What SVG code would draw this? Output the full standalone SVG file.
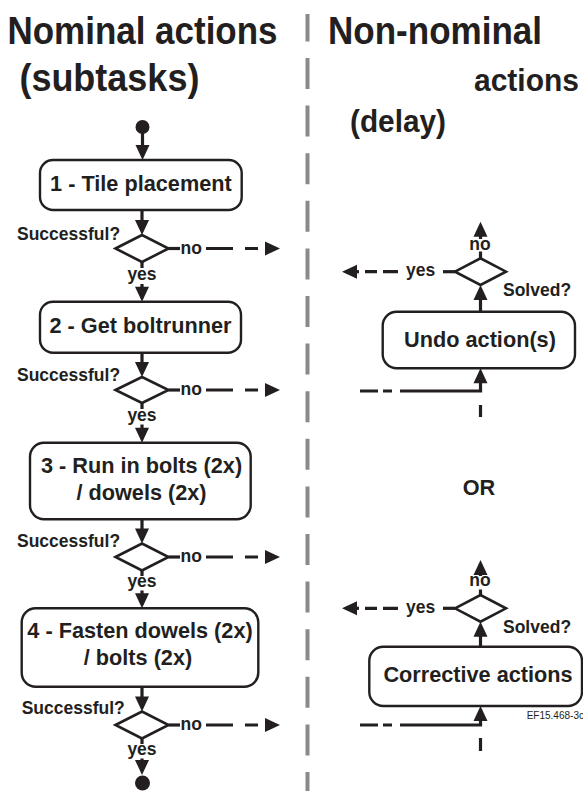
<svg xmlns="http://www.w3.org/2000/svg" width="583" height="791" viewBox="0 0 583 791">
<defs>
<marker id="arr" markerUnits="userSpaceOnUse" markerWidth="15" markerHeight="14" refX="11" refY="7" orient="auto" overflow="visible">
<path d="M0,0 L15,7 L0,14 Z" fill="#231f20"/>
</marker>
<style>
.ln{stroke:#231f20;stroke-width:3.2;fill:none}
.box{fill:#fff;stroke:#231f20;stroke-width:2.4}
.dia{fill:#fff;stroke:#231f20;stroke-width:2.6}
.t{font-family:"Liberation Sans",Arial,Helvetica,sans-serif;font-weight:bold;fill:#231f20}
.title{font-size:39px}
.title2{font-size:30.5px}
.bt{font-size:21.7px}
.lb{font-size:17.5px}
.mid{text-anchor:middle}
.div{stroke:#8a8a8a;stroke-width:4;stroke-dasharray:31 16.6;stroke-dashoffset:3.6}
</style>
</defs>
<rect width="583" height="791" fill="#fff"/>

<g id="titles">
<text class="t title" x="7.5" y="44" textLength="270" lengthAdjust="spacingAndGlyphs">Nominal actions</text>
<text class="t title" x="19.4" y="91.3" textLength="180" lengthAdjust="spacingAndGlyphs">(subtasks)</text>
<text class="t title" x="328" y="44" textLength="214" lengthAdjust="spacingAndGlyphs">Non-nominal</text>
<text class="t title2" x="474" y="91.3" textLength="105" lengthAdjust="spacingAndGlyphs">actions</text>
<text class="t title2" x="350" y="132.3" textLength="96" lengthAdjust="spacingAndGlyphs">(delay)</text>
</g>

<g id="divider">
<line class="div" x1="307.5" y1="14" x2="307.5" y2="791"/>
</g>

<g id="connectors">
<path class="ln" d="M142.5,130 V156" marker-end="url(#arr)"/>
<path class="ln" d="M142,210 V231" marker-end="url(#arr)"/>
<path class="ln" d="M168.5,248.5 H180"/>
<path class="ln" d="M206,248.5 H233 M245,248.5 H258"/>
<path class="ln" d="M266,248.5 H276" marker-end="url(#arr)"/>
<path class="ln" d="M142,262 V268"/>
<path class="ln" d="M142,284 V297.7" marker-end="url(#arr)"/>
<path class="ln" d="M142,352.7 V373" marker-end="url(#arr)"/>
<path class="ln" d="M168.5,390 H180"/>
<path class="ln" d="M206,390 H233 M245,390 H258"/>
<path class="ln" d="M266,390 H276" marker-end="url(#arr)"/>
<path class="ln" d="M142,403 V409"/>
<path class="ln" d="M142,424.5 V438.7" marker-end="url(#arr)"/>
<path class="ln" d="M142,519.3 V539.5" marker-end="url(#arr)"/>
<path class="ln" d="M168.5,557 H180"/>
<path class="ln" d="M206,557 H233 M245,557 H258"/>
<path class="ln" d="M266,557 H276" marker-end="url(#arr)"/>
<path class="ln" d="M142,570.5 V576"/>
<path class="ln" d="M142,590.5 V604.3" marker-end="url(#arr)"/>
<path class="ln" d="M142,686.7 V707.5" marker-end="url(#arr)"/>
<path class="ln" d="M168.5,725 H180"/>
<path class="ln" d="M206,725 H233 M245,725 H258"/>
<path class="ln" d="M266,725 H276" marker-end="url(#arr)"/>
<path class="ln" d="M142,738.5 V744"/>
<path class="ln" d="M142,758.5 V771" marker-end="url(#arr)"/>

<path class="ln" d="M480.5,239 V225.7" marker-end="url(#arr)"/>
<path class="ln" d="M480.5,251.5 V258.3"/>
<path class="ln" d="M443,271.7 H455"/>
<path class="ln" d="M383,271.7 H398 M365,271.7 H377"/>
<path class="ln" d="M359,271.7 H346" marker-end="url(#arr)"/>
<path class="ln" d="M480.5,311.7 V289" marker-end="url(#arr)"/>
<path class="ln" d="M480.5,391 V372.3" marker-end="url(#arr)"/>
<path class="ln" d="M360,391 H378 M383,391 H392 M400,391 H482.1"/>
<path class="ln" d="M480.5,405 V417"/>

<path class="ln" d="M480.5,576 V564" marker-end="url(#arr)"/>
<path class="ln" d="M480.5,589.5 V595"/>
<path class="ln" d="M443,608.3 H455"/>
<path class="ln" d="M383,608.3 H398 M365,608.3 H377"/>
<path class="ln" d="M359,608.3 H346" marker-end="url(#arr)"/>
<path class="ln" d="M480.5,646.7 V625.7" marker-end="url(#arr)"/>
<path class="ln" d="M480.5,725 V710" marker-end="url(#arr)"/>
<path class="ln" d="M360,725 H378 M383,725 H392 M400,725 H482.1"/>
<path class="ln" d="M480.5,738 V751"/>
</g>

<g id="start"><circle cx="142.5" cy="127" r="7" fill="#231f20"/></g>
<g id="end"><circle cx="142.5" cy="783" r="7.5" fill="#231f20"/></g>

<g id="task1">
<rect class="box" x="40" y="160" width="201.7" height="50" rx="13"/>
<text class="t bt mid" x="140.9" y="190.7">1 - Tile placement</text>
</g>
<g id="decision1">
<polygon class="dia" points="115.5,248.5 142,235 168.5,248.5 142,262"/>
<text class="t lb" x="17" y="240">Successful?</text>
<text class="t lb" x="180.5" y="253.5">no</text>
<text class="t lb mid" x="142" y="280">yes</text>
</g>

<g id="task2">
<rect class="box" x="40" y="301.7" width="201" height="51" rx="13"/>
<text class="t bt mid" x="140.5" y="333">2 - Get boltrunner</text>
</g>
<g id="decision2">
<polygon class="dia" points="115.5,390 142,377 168.5,390 142,403"/>
<text class="t lb" x="17" y="380.7">Successful?</text>
<text class="t lb" x="180.5" y="395">no</text>
<text class="t lb mid" x="142" y="420.7">yes</text>
</g>

<g id="task3">
<rect class="box" x="30" y="442.7" width="220.7" height="76.6" rx="14"/>
<text class="t bt mid" x="141.5" y="473.3">3 - Run in bolts (2x)</text>
<text class="t bt mid" x="141.5" y="500">/ dowels (2x)</text>
</g>
<g id="decision3">
<polygon class="dia" points="115.5,557 142,543.5 168.5,557 142,570.5"/>
<text class="t lb" x="17" y="547">Successful?</text>
<text class="t lb" x="180.5" y="562">no</text>
<text class="t lb mid" x="142" y="587">yes</text>
</g>

<g id="task4">
<rect class="box" x="21.7" y="608.3" width="236.6" height="78.4" rx="14"/>
<text class="t bt mid" x="140" y="638.3">4 - Fasten dowels (2x)</text>
<text class="t bt mid" x="138" y="665">/ bolts (2x)</text>
</g>
<g id="decision4">
<polygon class="dia" points="115.5,725 142,711.5 168.5,725 142,738.5"/>
<text class="t lb" x="21.7" y="713.5">Successful?</text>
<text class="t lb" x="180.5" y="730">no</text>
<text class="t lb mid" x="142" y="755">yes</text>
</g>

<g id="undo">
<rect class="box" x="382.7" y="311.7" width="192.3" height="56.6" rx="14"/>
<text class="t bt mid" x="480" y="346.7">Undo action(s)</text>
</g>
<g id="solved1">
<polygon class="dia" points="455,271.7 480.5,258.3 506,271.7 480.5,285"/>
<text class="t lb mid" x="480" y="250">no</text>
<text class="t lb" x="406" y="275.5">yes</text>
<text class="t lb" x="503" y="296">Solved?</text>
</g>

<g id="or">
<text class="t bt mid" x="479" y="495">OR</text>
</g>

<g id="corrective">
<rect class="box" x="369.3" y="646.7" width="212.7" height="59.3" rx="14"/>
<text class="t bt mid" x="478" y="681.7">Corrective actions</text>
</g>
<g id="solved2">
<polygon class="dia" points="455,608.3 480.5,595 506,608.3 480.5,621.7"/>
<text class="t lb mid" x="480" y="586">no</text>
<text class="t lb" x="406" y="612.7">yes</text>
<text class="t lb" x="503" y="632.7">Solved?</text>
</g>

<g id="ref">
<text x="526.7" y="719" style="font-family:'Liberation Sans',Arial,sans-serif;font-size:10px;fill:#231f20">EF15.468-3c</text>
</g>
</svg>
